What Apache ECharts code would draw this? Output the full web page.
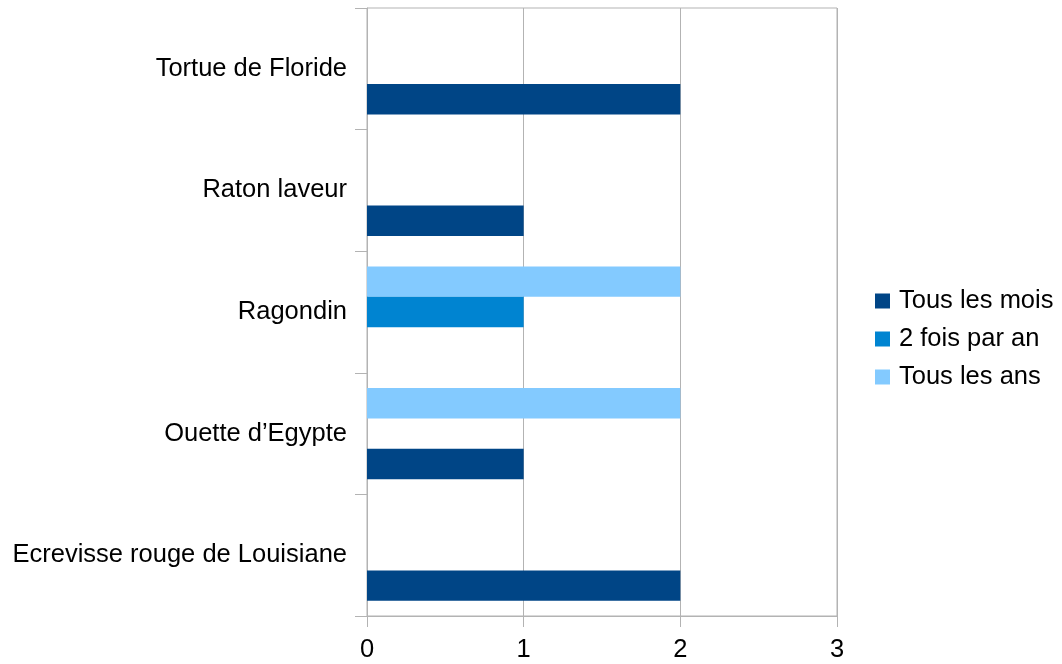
<!DOCTYPE html>
<html>
<head>
    <meta charset="utf-8">
    <title>ECharts</title>
    <script src="https://cdn.jsdelivr.net/npm/echarts@6/dist/echarts.min.js"></script>
    <style type="text/css">
        html, body {
            margin: 0;
            height: 100%;
            background: #fff;
        }
    </style>
</head>
<body>
<div id="main" style="width: 1062px;height:664px;"></div>
<script type="text/javascript">
    var categories = ['Ecrevisse rouge de Louisiane', 'Ouette d’Egypte', 'Ragondin', 'Raton laveur', 'Tortue de Floride'];
    var tousLesMois = [2, 1, 0, 1, 2];
    var deuxFoisParAn = [0, 0, 1, 0, 0];
    var tousLesAns = [0, 2, 2, 0, 0];
    var valueTicks = [0, 1, 2, 3];

    var myChart = echarts.init(document.getElementById('main'), null, {renderer: 'canvas'});
    var gridColor = '#b3b3b3';
    var font = 'Liberation Sans';

    // series listed top-down inside a band, so the last one ends up at the bottom
    var option = {
        animation: false,
        textStyle: {fontFamily: font},
        grid: {
            left: 367, right: 225, top: 8, bottom: 48,
            show: true, borderColor: gridColor, borderWidth: 1
        },
        legend: {
            orient: 'vertical',
            left: 870,
            top: 283,
            icon: 'rect',
            itemWidth: 15,
            itemHeight: 15,
            itemGap: 12,
            textStyle: {fontSize: 25.5, color: '#000', fontFamily: font, lineHeight: 25, padding: [0, 0, 0, 4]},
            data: ['Tous les mois', '2 fois par an', 'Tous les ans']
        },
        xAxis: {
            type: 'value',
            min: valueTicks[0],
            max: valueTicks[valueTicks.length - 1],
            interval: 1,
            axisLine: {show: true, lineStyle: {color: gridColor}},
            axisTick: {show: true, length: 11, lineStyle: {color: gridColor}},
            splitLine: {show: true, lineStyle: {color: gridColor}},
            axisLabel: {fontSize: 25.5, color: '#000', margin: 21, fontFamily: font}
        },
        yAxis: {
            type: 'category',
            data: categories,
            axisLine: {show: true, lineStyle: {color: gridColor}},
            axisTick: {show: true, length: 12, alignWithLabel: false, lineStyle: {color: gridColor}},
            splitLine: {show: false},
            axisLabel: {fontSize: 25.5, color: '#000', margin: 20, fontFamily: font}
        },
        series: [{
            name: 'Tous les ans',
            type: 'bar',
            data: tousLesAns,
            itemStyle: {color: '#83caff'},
            barGap: '0%',
            barCategoryGap: '25%'
        }, {
            name: '2 fois par an',
            type: 'bar',
            data: deuxFoisParAn,
            itemStyle: {color: '#0084d1'},
            barGap: '0%',
            barCategoryGap: '25%'
        }, {
            name: 'Tous les mois',
            type: 'bar',
            data: tousLesMois,
            itemStyle: {color: '#004586'},
            barGap: '0%',
            barCategoryGap: '25%'
        }]
    };

    myChart.setOption(option);

    window.addEventListener("resize", function () {
        myChart.resize();
    });
</script>
</body>
</html>
